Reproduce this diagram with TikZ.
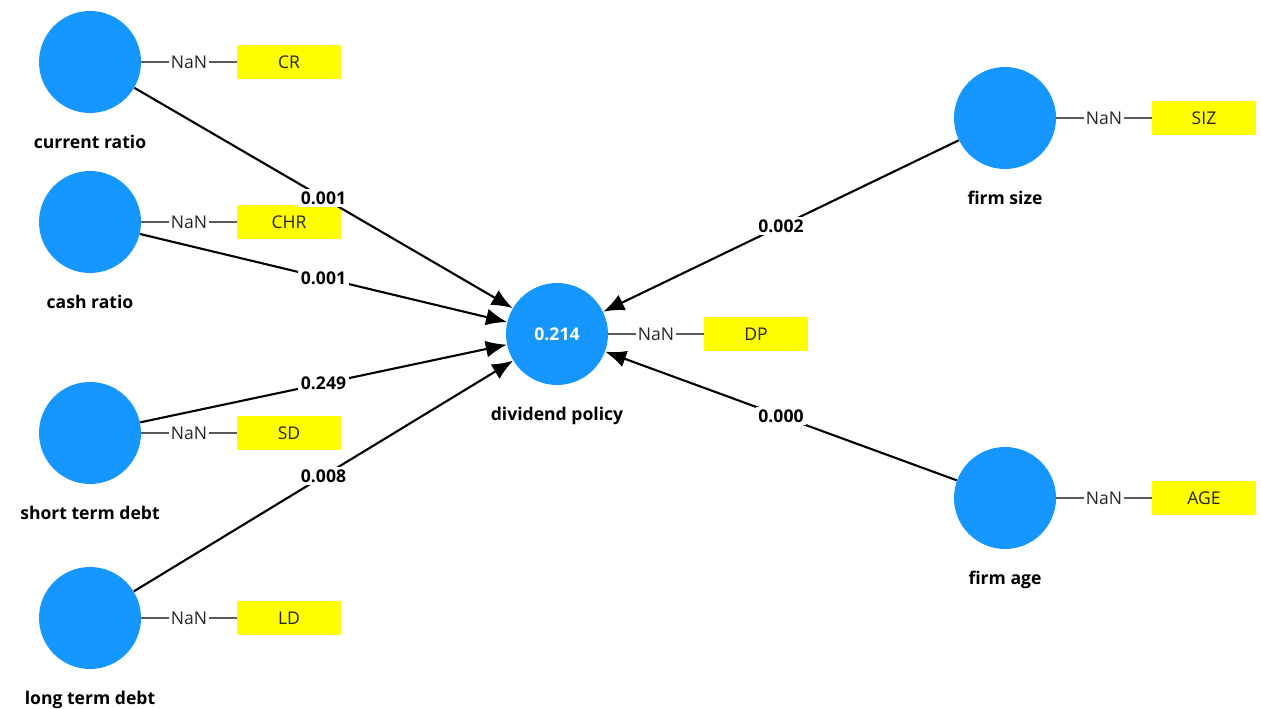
\documentclass[tikz,border=0pt]{standalone}
\usepackage{fontspec}
\setmainfont{Open Sans}
\usetikzlibrary{arrows.meta}
\definecolor{lvblue}{RGB}{22,150,255}
\definecolor{mvyellow}{RGB}{255,255,0}
\definecolor{nangray}{RGB}{90,90,90}

\begin{document}
\begin{tikzpicture}[x=0.02cm,y=-0.02cm,
    latent/.style={circle,fill=lvblue,minimum size=2.04cm,inner sep=0pt,
      font=\bfseries\fontsize{10}{12}\selectfont,text=white},
    lvname/.style={font=\bfseries\fontsize{10}{12}\selectfont,label distance=0.32cm},
    indicator/.style={fill=mvyellow,minimum width=2.08cm,minimum height=0.68cm,
      inner sep=0pt,font=\fontsize{10}{12}\selectfont,text=black!85},
    nan/.style={fill=white,inner sep=1pt,font=\fontsize{10}{12}\selectfont,text=black!85},
    outer/.style={draw=nangray,line width=0.6pt},
    path/.style={draw=black,line width=1.2pt,-{Latex[length=4.2mm,width=3.4mm]}},
    coef/.style={fill=white,inner sep=1.5pt,font=\bfseries\fontsize{10}{12}\selectfont}]
    \useasboundingbox (0,0) rectangle (1261,709);

    % latent variables
    \node[latent,label={[lvname]below:current ratio}] (cr) at (90,62) {};
    \node[latent,label={[lvname]below:cash ratio}] (chr) at (90,222) {};
    \node[latent,label={[lvname]below:short term debt}] (sd) at (90,433) {};
    \node[latent,label={[lvname]below:long term debt}] (ld) at (90,618) {};
    \node[latent,label={[lvname]below:dividend policy}] (dp) at (557,334) {0.214};
    \node[latent,label={[lvname]below:firm size}] (siz) at (1005,118) {};
    \node[latent,label={[lvname]below:firm age}] (age) at (1005,498) {};

    % indicators
    \node[indicator] (crbox) at (289,62) {CR};
    \node[indicator] (chrbox) at (289,222) {CHR};
    \node[indicator] (sdbox) at (289,433) {SD};
    \node[indicator] (ldbox) at (289,618) {LD};
    \node[indicator] (dpbox) at (756,334) {DP};
    \node[indicator] (sizbox) at (1204,118) {SIZ};
    \node[indicator] (agebox) at (1204,498) {AGE};

    \foreach \lv in {cr,chr,sd,ld,dp,siz,age}
        \draw[outer] (\lv) -- node[nan] {NaN} (\lv box);

    % paths
    \draw[path] (cr) -- node[coef] {0.001} (dp);
    \draw[path] (chr) -- node[coef] {0.001} (dp);
    \draw[path] (sd) -- node[coef] {0.249} (dp);
    \draw[path] (ld) -- node[coef] {0.008} (dp);
    \draw[path] (siz) -- node[coef] {0.002} (dp);
    \draw[path] (age) -- node[coef] {0.000} (dp);
\end{tikzpicture}
\end{document}
